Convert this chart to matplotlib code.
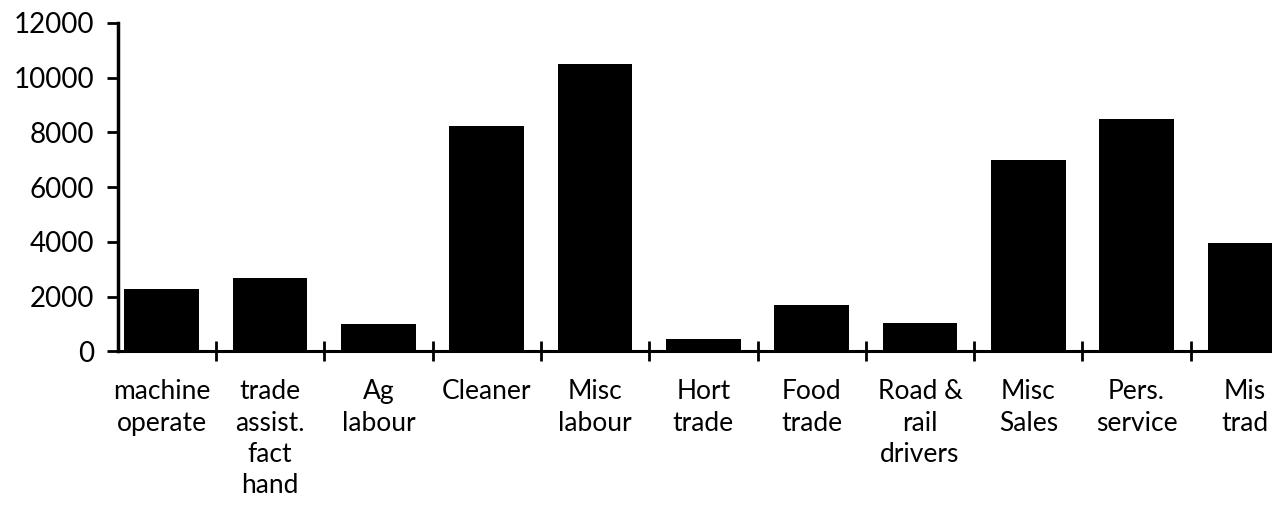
import matplotlib
matplotlib.use('Agg')
import matplotlib.pyplot as plt
import numpy as np

# Dane
categories = ['machine\noperate', 'trade\nassist.\nfact\nhand', 'Ag\nlabour', 'Cleaner',
              'Misc\nlabour', 'Hort\ntrade', 'Food\ntrade', 'Road &\nrail\ndrivers',
              'Misc\nSales', 'Pers.\nservice', 'Mis\ntrad']
values = [2300, 2700, 1000, 8250, 10500, 450, 1700, 1050, 7000, 8500, 3950]
y_ticks = [0, 2000, 4000, 6000, 8000, 10000, 12000]

plt.rcParams['font.family'] = ['Lato', 'DejaVu Sans']

fig = plt.figure(figsize=(12.72, 5.05), dpi=100)
ax = fig.add_axes([0.0928, 0.304, 0.9072, 0.6505])

x = np.arange(len(categories))
ax.bar(x, values, width=0.69, color='black')

ax.set_xlim(-0.404, 10.25)
ax.set_ylim(0, 12000)

# os Y
ax.set_yticks(y_ticks)
ax.set_yticklabels([str(v) for v in y_ticks])
ax.tick_params(axis='y', direction='out', length=8, width=2, pad=9, labelsize=20)

# os X - etykiety w srodku, kreski na granicach kategorii
ax.set_xticks(x)
ax.set_xticklabels(categories, fontsize=19, linespacing=1.32, va='top')
ax.tick_params(axis='x', which='major', length=0, pad=20)
ax.set_xticks(x[:-1] + 0.5, minor=True)
ax.tick_params(axis='x', which='minor', direction='inout', length=14, width=2)

for side in ['top', 'right']:
    ax.spines[side].set_visible(False)
ax.spines['left'].set_linewidth(2.5)
ax.spines['bottom'].set_linewidth(2.2)

plt.savefig('out.png', dpi=100)
plt.close()
